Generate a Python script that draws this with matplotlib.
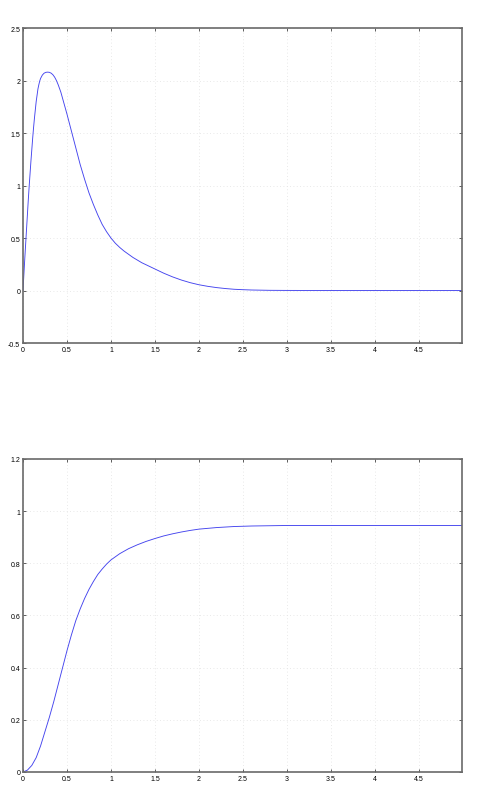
import matplotlib
matplotlib.use("Agg")
import matplotlib.pyplot as plt

# impulse-like response (top panel)
t_top = [0, 0.01, 0.02, 0.03, 0.04, 0.05, 0.06, 0.07, 0.08, 0.09, 0.10, 0.11,
         0.12, 0.13, 0.14, 0.15, 0.16, 0.17, 0.18, 0.19, 0.20, 0.22, 0.24,
         0.26, 0.28, 0.30, 0.32, 0.34, 0.36, 0.38, 0.40, 0.43, 0.46, 0.50,
         0.55, 0.60, 0.65, 0.70, 0.75, 0.80, 0.85, 0.90, 0.95, 1.0, 1.05, 1.1,
         1.15, 1.2, 1.25, 1.3, 1.35, 1.4, 1.45, 1.5, 1.6, 1.7, 1.8, 1.9, 2.0,
         2.1, 2.2, 2.3, 2.4, 2.5, 2.6, 2.8, 3.0, 3.5, 4.0, 4.5, 4.99]
y_top = [0, 0.15, 0.3, 0.44, 0.58, 0.72, 0.86, 0.99, 1.11, 1.23, 1.34, 1.45,
         1.55, 1.64, 1.72, 1.8, 1.86, 1.92, 1.96, 1.995, 2.02, 2.052, 2.07,
         2.078, 2.08, 2.078, 2.07, 2.055, 2.032, 2.0, 1.96, 1.89, 1.8, 1.68,
         1.52, 1.36, 1.2, 1.06, 0.93, 0.82, 0.72, 0.63, 0.56, 0.5, 0.45, 0.41,
         0.375, 0.345, 0.315, 0.29, 0.265, 0.245, 0.225, 0.205, 0.165, 0.13,
         0.1, 0.075, 0.055, 0.04, 0.028, 0.019, 0.012, 0.008, 0.005, 0.002,
         0.001, 0, 0, 0, 0]

# step-like response (bottom panel)
t_bot = [0, 0.05, 0.1, 0.15, 0.2, 0.25, 0.3, 0.35, 0.4, 0.45, 0.5, 0.55, 0.6,
         0.65, 0.7, 0.75, 0.8, 0.85, 0.9, 0.95, 1.0, 1.1, 1.2, 1.3, 1.4, 1.5,
         1.6, 1.7, 1.8, 1.9, 2.0, 2.2, 2.4, 2.6, 2.8, 3.0, 3.5, 4.0, 4.5, 4.99]
y_bot = [0, 0.007, 0.025, 0.055, 0.1, 0.155, 0.21, 0.27, 0.335, 0.4, 0.465,
         0.525, 0.58, 0.625, 0.665, 0.7, 0.73, 0.757, 0.778, 0.797, 0.813,
         0.837, 0.856, 0.871, 0.884, 0.895, 0.905, 0.913, 0.92, 0.926, 0.931,
         0.937, 0.941, 0.943, 0.944, 0.945, 0.945, 0.945, 0.945, 0.945]

x_ticks = [0, 0.5, 1, 1.5, 2, 2.5, 3, 3.5, 4, 4.5]
x_labels = ['0', '0.5', '1', '1.5', '2', '2.5', '3', '3.5', '4', '4.5']
top_yticks = [-0.5, 0, 0.5, 1, 1.5, 2, 2.5]
top_ylabels = ['-0.5', '0', '0.5', '1', '1.5', '2', '2.5']
bot_yticks = [0, 0.2, 0.4, 0.6, 0.8, 1, 1.2]
bot_ylabels = ['0', '0.2', '0.4', '0.6', '0.8', '1', '1.2']

plt.rcParams['font.family'] = ['Liberation Sans', 'DejaVu Sans']

fig = plt.figure(figsize=(4.82, 8.04), dpi=100)
ax1 = fig.add_axes([0.0477, 0.5721, 0.9108, 0.3918])
ax2 = fig.add_axes([0.0477, 0.0386, 0.9108, 0.3893])


def style(ax, yticks, ylabels, ylim):
    ax.set_xlim(0, 4.99)
    ax.set_ylim(*ylim)
    ax.set_xticks(x_ticks)
    ax.set_xticklabels(x_labels)
    ax.set_yticks(yticks)
    ax.set_yticklabels(ylabels)
    ax.tick_params(direction='in', length=2.5, width=0.6, colors='#444444',
                   labelcolor='black', labelsize=5, top=True, right=True, pad=2)
    ax.grid(True, linestyle=(0, (1, 3)), color='#e2e2e2', linewidth=0.6)
    for s in ax.spines.values():
        s.set_color('#6a6a6a')
        s.set_linewidth(1.2)


ax1.plot(t_top, y_top, color='#4444ee', linewidth=0.65)
style(ax1, top_yticks, top_ylabels, (-0.5, 2.5))

ax2.plot(t_bot, y_bot, color='#4444ee', linewidth=0.65)
style(ax2, bot_yticks, bot_ylabels, (0, 1.2))

fig.savefig('out.png', dpi=100)
